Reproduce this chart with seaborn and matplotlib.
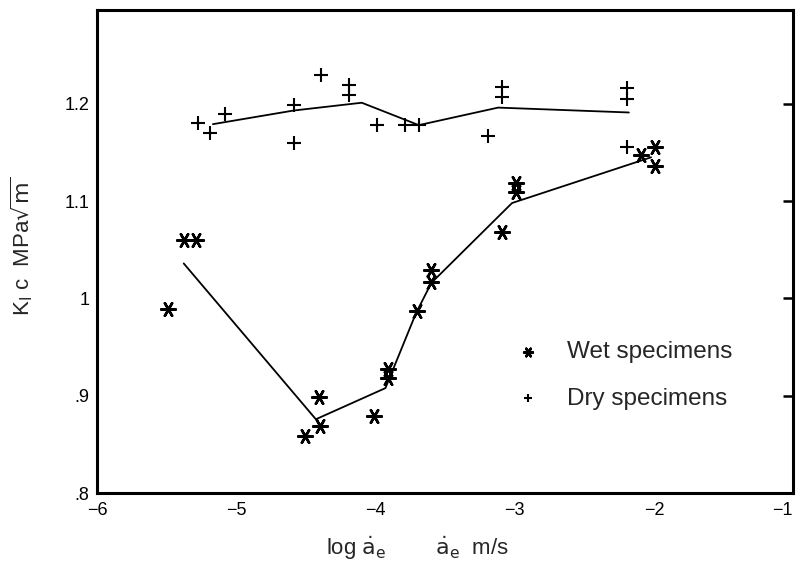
import numpy as np
import pandas as pd
import matplotlib
matplotlib.use("Agg")
import matplotlib.pyplot as plt
import seaborn as sns

# dry specimens (+)
dry_x = [-5.28, -5.19, -5.08, -4.59, -4.59, -4.39, -4.19, -4.19, -3.99,
         -3.79, -3.69, -3.19, -3.09, -3.09, -2.19, -2.19, -2.19]
dry_y = [1.180, 1.170, 1.189, 1.199, 1.160, 1.229, 1.219, 1.209, 1.178,
         1.178, 1.178, 1.167, 1.217, 1.207, 1.216, 1.205, 1.156]

# wet specimens (*)
wet_x = [-5.49, -5.38, -5.29, -4.51, -4.41, -4.40, -4.01, -3.91, -3.91,
         -3.70, -3.60, -3.60, -3.09, -2.99, -2.99, -2.09, -1.99, -1.99]
wet_y = [0.989, 1.060, 1.060, 0.859, 0.899, 0.869, 0.879, 0.928, 0.918,
         0.987, 1.029, 1.017, 1.068, 1.119, 1.109, 1.147, 1.156, 1.136]

# hand-drawn trend lines
dry_line_x = [-5.17, -4.59, -4.10, -3.69, -3.12, -2.18]
dry_line_y = [1.179, 1.193, 1.201, 1.178, 1.196, 1.191]
wet_line_x = [-5.38, -4.43, -3.93, -3.71, -3.60, -3.02, -2.02]
wet_line_y = [1.036, 0.876, 0.908, 0.985, 1.016, 1.098, 1.145]

x_ticks = [-6, -5, -4, -3, -2, -1]
y_ticks = [0.8, 0.9, 1.0, 1.1, 1.2]
y_tick_labels = [".8", ".9", "1", "1.1", "1.2"]

sns.set_style("white")
plt.rcParams["font.family"] = ["Liberation Sans", "DejaVu Sans"]
plt.rcParams["mathtext.fontset"] = "dejavusans"

fig = plt.figure(figsize=(7.97, 5.67), dpi=100)
ax = fig.add_axes([0.1223, 0.130, 0.8727, 0.852])

dry = pd.DataFrame({"x": dry_x, "y": dry_y})
wet = pd.DataFrame({"x": wet_x, "y": wet_y})
dline = pd.DataFrame({"x": dry_line_x, "y": dry_line_y})
wline = pd.DataFrame({"x": wet_line_x, "y": wet_line_y})

sns.lineplot(data=dline, x="x", y="y", sort=False, color="black", lw=1.3, ax=ax)
sns.lineplot(data=wline, x="x", y="y", sort=False, color="black", lw=1.3, ax=ax)
ax.scatter(dry["x"], dry["y"], marker="+", s=110, color="black", linewidths=1.5,
           label="Dry specimens", zorder=3)
ax.scatter(wet["x"], wet["y"], marker=(6, 2, 90), s=110, color="black",
           linewidths=1.8, label="Wet specimens", zorder=3)

ax.set_xlim(-6, -1)
ax.set_ylim(0.8, 1.296)
ax.set_xticks(x_ticks)
ax.set_xticklabels(["\u2212%d" % abs(t) for t in x_ticks])
ax.set_yticks(y_ticks)
ax.set_yticklabels(y_tick_labels)
ax.tick_params(direction="in", length=7, width=1.8, labelsize=13, pad=6,
               right=True, colors="black")
# last label sits on the page edge, keep it inside
ax.get_xticklabels()[-1].set_horizontalalignment("right")
for s in ax.spines.values():
    s.set_linewidth(2.2)
    s.set_color("black")

ax.set_xlabel(r"log $\dot{\mathrm{a}}_{\mathrm{e}}$        $\dot{\mathrm{a}}_{\mathrm{e}}$  m/s",
              fontsize=16)
ax.xaxis.set_label_coords(0.46, -0.085)
ax.set_ylabel(r"K$_{\mathrm{I}}$ c  MPa$\sqrt{\mathrm{m}}$", fontsize=16)
ax.yaxis.set_label_coords(-0.09, 0.51)

h, l = ax.get_legend_handles_labels()
leg = ax.legend(h[::-1], l[::-1], loc="upper left", bbox_to_anchor=(0.57, 0.36),
                frameon=False, fontsize=17.5, markerscale=0.6, handletextpad=1.1,
                labelspacing=1.0, handlelength=1.0)

fig.savefig("out.png", dpi=100)
